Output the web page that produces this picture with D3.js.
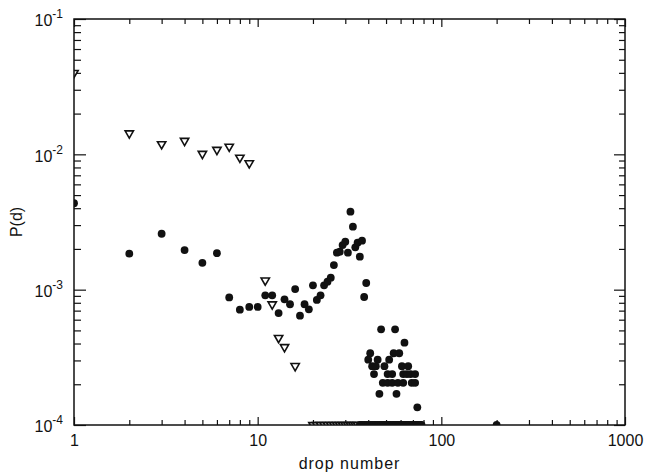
<!DOCTYPE html>
<html>
<head>
<meta charset="utf-8">
<script src="https://cdn.jsdelivr.net/npm/d3@7/dist/d3.min.js"></script>
<style>
  body { margin: 0; background: #fff; }
  svg { display: block; font-family: "Liberation Sans", Arial, sans-serif; }
</style>
</head>
<body>
<svg id="chart"></svg>
<script>
// open triangles: drop number and probability
const triDrop = [1, 2, 3, 4, 5, 6, 7, 8, 9, 11, 12, 13, 14, 16]
const triP = [0.040, 0.0143, 0.0119, 0.0126, 0.0101, 0.0108, 0.0114, 0.00945, 0.0086,
    0.00117, 0.00078, 0.00044, 0.000377, 0.000273]

// filled circles: drop number and probability
const circDrop = [1, 2, 3, 4, 5, 6, 7, 8, 9, 10,
    11, 12, 13, 14, 15, 16, 17, 18, 19, 20,
    21, 22, 23, 24, 25, 26, 27, 28, 29, 30,
    31, 32, 33, 34, 35, 36, 37, 38, 39,
    47, 56, 63,
    41, 55, 59,
    40, 45, 52,
    42, 44, 49, 61, 66,
    43, 51, 54, 62, 65, 68, 72,
    48, 51, 54, 58, 62, 69, 72,
    46, 57, 74]
const circP = [0.00435, 0.001845, 0.00259, 0.00196, 0.00158, 0.00186, 0.000877, 0.000711, 0.000745, 0.000745,
    0.000908, 0.000908, 0.000672, 0.000849, 0.00078, 0.00101, 0.000642, 0.00078, 0.000716, 0.001077,
    0.00084, 0.000908, 0.001077, 0.001145, 0.001227, 0.00152, 0.001876, 0.001906, 0.002137, 0.00226,
    0.001876, 0.003767, 0.002919, 0.002055, 0.002224, 0.001753, 0.0023, 0.000883, 0.00112,
    0.000509, 0.000509, 0.000406,
    0.000339, 0.000339, 0.000339,
    0.000304, 0.000304, 0.000304,
    0.000272, 0.000272, 0.000272, 0.000272, 0.000272,
    0.000238, 0.000238, 0.000238, 0.000238, 0.000238, 0.000238, 0.000238,
    0.000205, 0.000205, 0.000205, 0.000205, 0.000205, 0.000205, 0.000205,
    0.00017, 0.00017, 0.000135]

// points sitting on the lower edge of the plot (P at or below 1e-4)
const triFloorDrop = [20, 21, 22, 23, 24, 25, 26, 27, 28, 29, 30, 31, 32, 33, 34, 35]
const circFloorDrop = [36, 37, 38, 39, 40, 41, 42, 43, 44, 45, 46, 47, 48, 49, 50,
    51, 52, 53, 54, 55, 56, 57, 58, 59, 60, 61, 62, 63, 64, 65, 66, 67, 68, 69, 70,
    71, 72, 73, 74, 75, 76, 77, 78, 200]
const floorP = 1e-4

// tick values
const xMajor = [1, 10, 100, 1000]
const xMinor = [2, 3, 4, 5, 6, 7, 8, 9, 20, 30, 40, 50, 60, 70, 80, 90, 200, 300, 400, 500, 600, 700, 800, 900]
const yMajor = [1e-4, 1e-3, 1e-2, 1e-1]
const yMinor = [2e-4, 3e-4, 4e-4, 5e-4, 6e-4, 7e-4, 8e-4, 9e-4,
    2e-3, 3e-3, 4e-3, 5e-3, 6e-3, 7e-3, 8e-3, 9e-3,
    2e-2, 3e-2, 4e-2, 5e-2, 6e-2, 7e-2, 8e-2, 9e-2]
const yExponent = {0.0001: '-4', 0.001: '-3', 0.01: '-2', 0.1: '-1'}

const dimensions = {
    width: 551,
    height: 406,
    margin: {top: 19, right: 21, bottom: 51, left: 74}
}

const svg = d3.select('#chart')
    .attr('width', 646)
    .attr('height', 476)

const graph = svg.append('g')
    .attr('transform', `translate(${dimensions.margin.left}, ${dimensions.margin.top})`)

// log scales on both axes
const xScale = d3.scaleLog()
    .domain([1, 1000])
    .range([0, dimensions.width])
const yScale = d3.scaleLog()
    .domain([1e-4, 1e-1])
    .range([dimensions.height, 0])

// clip markers to the plot frame
svg.append('defs').append('clipPath')
    .attr('id', 'plotClip')
    .append('rect')
    .attr('width', dimensions.width)
    .attr('height', dimensions.height)

const styleAxis = g => {
    g.select('.domain').remove()
    g.selectAll('.tick line').attr('stroke', '#111').attr('stroke-width', 1.2)
    g.attr('font-family', null).attr('font-size', 16).attr('fill', '#111')
    g.selectAll('.tick text').attr('fill', '#111')
}

// bottom axis, ticks pointing inward
graph.append('g')
    .attr('transform', `translate(0, ${dimensions.height})`)
    .call(d3.axisBottom(xScale).tickValues(xMajor).tickSize(-8).tickPadding(10).tickFormat(d3.format('d')))
    .call(styleAxis)
graph.append('g')
    .attr('transform', `translate(0, ${dimensions.height})`)
    .call(d3.axisBottom(xScale).tickValues(xMinor).tickSize(-5).tickFormat(''))
    .call(styleAxis)

// top axis, ticks only
graph.append('g')
    .call(d3.axisTop(xScale).tickValues(xMajor).tickSize(-8).tickFormat(''))
    .call(styleAxis)
graph.append('g')
    .call(d3.axisTop(xScale).tickValues(xMinor).tickSize(-5).tickFormat(''))
    .call(styleAxis)

// left axis with 10^n labels
const leftAxis = graph.append('g')
    .call(d3.axisLeft(yScale).tickValues(yMajor).tickSize(-12).tickPadding(11).tickFormat(''))
    .call(styleAxis)
leftAxis.selectAll('.tick text')
    .attr('dy', '0.42em')
    .each(function (d) {
        const t = d3.select(this)
        t.append('tspan').text('10')
        t.append('tspan')
            .attr('dy', -8)
            .attr('font-size', 12)
            .text(yExponent[d])
    })
graph.append('g')
    .call(d3.axisLeft(yScale).tickValues(yMinor).tickSize(-7).tickFormat(''))
    .call(styleAxis)

// right axis, ticks only
graph.append('g')
    .attr('transform', `translate(${dimensions.width}, 0)`)
    .call(d3.axisRight(yScale).tickValues(yMajor).tickSize(-11).tickFormat(''))
    .call(styleAxis)
graph.append('g')
    .attr('transform', `translate(${dimensions.width}, 0)`)
    .call(d3.axisRight(yScale).tickValues(yMinor).tickSize(-6).tickFormat(''))
    .call(styleAxis)

const marks = graph.append('g').attr('clip-path', 'url(#plotClip)')

const triangle = d3.symbol(d3.symbolTriangle).size(30)

// open down-pointing triangles
marks.selectAll('.tri')
    .data(triDrop.map((d, i) => ({d, p: triP[i]})).concat(triFloorDrop.map(d => ({d, p: floorP}))))
    .enter().append('path')
    .attr('class', 'tri')
    .attr('d', triangle)
    .attr('transform', d => `translate(${xScale(d.d)}, ${yScale(d.p)}) rotate(180)`)
    .attr('fill', '#fff')
    .attr('stroke', '#111')
    .attr('stroke-width', 1.6)

// filled circles
marks.selectAll('.dot')
    .data(circDrop.map((d, i) => ({d, p: circP[i]})).concat(circFloorDrop.map(d => ({d, p: floorP}))))
    .enter().append('circle')
    .attr('class', 'dot')
    .attr('cx', d => xScale(d.d))
    .attr('cy', d => yScale(d.p))
    .attr('r', 3.9)
    .attr('fill', '#111')

// frame
graph.append('rect')
    .attr('width', dimensions.width)
    .attr('height', dimensions.height)
    .attr('fill', 'none')
    .attr('stroke', '#111')
    .attr('stroke-width', 1.5)

// axis titles
svg.append('text')
    .attr('x', dimensions.margin.left + dimensions.width / 2)
    .attr('y', 469)
    .attr('text-anchor', 'middle')
    .attr('font-size', 16)
    .attr('letter-spacing', 1)
    .attr('fill', '#111')
    .text('drop number')

svg.append('text')
    .attr('transform', `translate(22, ${dimensions.margin.top + dimensions.height / 2}) rotate(-90)`)
    .attr('text-anchor', 'middle')
    .attr('font-size', 16)
    .attr('fill', '#111')
    .text('P(d)')
</script>
</body>
</html>
